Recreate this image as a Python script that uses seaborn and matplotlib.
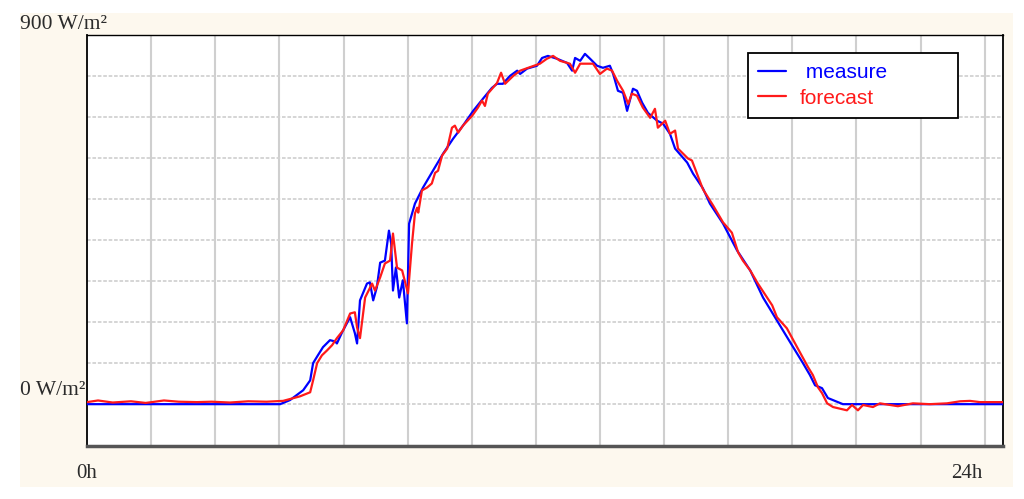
import numpy as np
import matplotlib
matplotlib.use("Agg")
import matplotlib.pyplot as plt
import seaborn as sns
from matplotlib.patches import Rectangle

# measured irradiance (W/m2) against hour of day
measure_hours = [0.00, 5.27, 5.54, 5.90, 6.09, 6.17, 6.30, 6.44, 6.63, 6.77, 6.82, 6.96,
                 7.18, 7.31, 7.37, 7.45, 7.64, 7.72, 7.81, 7.91, 8.00, 8.13, 8.24, 8.30,
                 8.35, 8.43, 8.52, 8.62, 8.73, 8.79, 8.95, 9.17, 9.44, 9.72, 9.99, 10.26,
                 10.54, 10.81, 11.05, 11.19, 11.35, 11.54, 11.74, 11.82, 12.01, 12.28, 12.42,
                 12.58, 12.83, 13.10, 13.24, 13.32, 13.46, 13.59, 13.73, 13.92, 14.08, 14.27,
                 14.36, 14.49, 14.63, 14.74, 14.90, 15.01, 15.15, 15.31, 15.56, 15.72, 15.91,
                 16.05, 16.38, 16.54, 16.81, 17.00, 17.36, 17.74, 18.10, 18.45, 18.83, 19.19,
                 19.54, 19.73, 19.87, 20.06, 20.22, 20.63, 25.00]
measure_wm2 = [0, 0, 10, 34, 58, 100, 119, 139, 156, 153, 148, 175,
               212, 173, 148, 253, 294, 297, 253, 285, 345, 350, 423, 392,
               277, 333, 260, 302, 197, 440, 489, 528, 569, 611, 647, 679,
               715, 745, 771, 781, 781, 800, 813, 805, 818, 825, 844,
               849, 842, 832, 813, 844, 837, 854, 842, 825, 820, 825,
               805, 764, 759, 715, 769, 764, 735, 710, 691, 684, 659,
               623, 589, 562, 526, 489, 440, 375, 326, 260, 204, 151,
               100, 71, 46, 39, 15, 0, 0]

# forecast irradiance (W/m2)
forecast_hours = [0.00, 0.30, 0.70, 1.20, 1.60, 2.10, 2.50, 3.00, 3.40, 3.90, 4.40, 4.90,
                  5.35, 5.81, 6.09, 6.17, 6.28, 6.41, 6.55, 6.69, 6.82, 6.99, 7.18, 7.31,
                  7.37, 7.45, 7.59, 7.78, 7.86, 8.00, 8.13, 8.27, 8.35, 8.46, 8.60, 8.76,
                  8.87, 8.95, 9.01, 9.04, 9.14, 9.28, 9.41, 9.50, 9.58, 9.69, 9.83, 9.96,
                  10.04, 10.13, 10.26, 10.51, 10.67, 10.78, 10.86, 10.94, 11.19, 11.30, 11.41,
                  11.63, 11.82, 12.04, 12.36, 12.55, 12.72, 12.91, 13.18, 13.32, 13.46, 13.81,
                  14.00, 14.19, 14.33, 14.47, 14.63, 14.77, 14.87, 15.01, 15.17, 15.37, 15.50,
                  15.58, 15.78, 15.91, 16.05, 16.13, 16.40, 16.51, 16.81, 17.09, 17.36, 17.60,
                  17.77, 17.90, 18.10, 18.31, 18.70, 18.83, 19.10, 19.38, 19.68, 19.81, 19.95,
                  20.06, 20.20, 20.36, 20.74, 20.88, 21.04, 21.18, 21.45, 21.64, 22.13, 22.54,
                  23.00, 23.47, 23.83, 24.10, 24.37, 25.00]
forecast_wm2 = [5, 9, 4, 7, 3, 9, 6, 5, 6, 4, 7, 6,
                8, 19, 29, 58, 100, 119, 131, 144, 161, 180, 221, 224,
                187, 161, 260, 294, 277, 309, 343, 350, 416, 333, 326, 270,
                392, 465, 479, 467, 521, 528, 538, 564, 569, 606, 623, 674,
                679, 662, 679, 703, 723, 740, 727, 757, 783, 808, 781,
                800, 813, 820, 830, 842, 849, 837, 830, 808, 830, 830,
                805, 818, 813, 788, 764, 732, 757, 752, 723, 698, 720,
                674, 691, 659, 667, 623, 599, 594, 524, 484, 443, 418,
                370, 350, 326, 294, 241, 212, 185, 139, 90, 71, 41,
                27, 2, -7, -15, -2, -15, -2, -7, 2, -5, 2,
                0, 2, 7, 8, 5, 5]

x_tick_hours = [0, 24]
x_tick_labels = ["0h", "24h"]

sns.set_style("white")
plt.rcParams["font.family"] = ["Liberation Serif", "DejaVu Sans"]

fig = plt.figure(figsize=(10.24, 4.99), dpi=100, facecolor="white")
fig.patches.append(Rectangle((0.0195, 0.024), 0.9698, 0.950, transform=fig.transFigure,
                             facecolor="#FDF8EE", edgecolor="none", zorder=-10))
ax = fig.add_axes([0.085, 0.1062, 0.8945, 0.8237])
ax.set_facecolor("white")

sns.lineplot(x=measure_hours, y=measure_wm2, ax=ax, color="#0000FF", lw=1.6,
             label=" measure", zorder=3)
sns.lineplot(x=forecast_hours, y=forecast_wm2, ax=ax, color="#FF1A1A", lw=1.6,
             label="forecast", zorder=4)

ax.set_xlim(0, 25)
ax.set_ylim(-102, 900)

# grid
ax.set_xticks(np.arange(0, 25, 1.75), minor=True)
ax.set_yticks(np.arange(0, 900, 100), minor=True)
ax.grid(False)
ax.grid(which="minor", axis="x", color="#cfcfcf", lw=1.5, ls="-", zorder=0)
ax.grid(which="minor", axis="y", color="#d2d2d2", lw=1.3, ls=(0, (2, 1)), zorder=0)
ax.tick_params(which="minor", direction="in", length=3, color="#333333", width=1)

ax.set_xticks(x_tick_hours, x_tick_labels)
ax.set_yticks([])
ax.tick_params(axis="x", which="major", length=0, pad=13, labelsize=15, labelcolor="#2b2b2b")

ax.annotate("900 W/m²", xy=(0, 900), xycoords=("axes fraction", "data"),
            xytext=(-67, 10), textcoords="offset pixels", ha="left", va="center",
            fontsize=15.5, color="#2b2b2b")
ax.annotate("0 W/m²", xy=(0, 0), xycoords=("axes fraction", "data"),
            xytext=(-2, 14), textcoords="offset pixels", ha="right", va="center",
            fontsize=15.5, color="#2b2b2b")

for side in ["left", "top", "right"]:
    ax.spines[side].set_color("black")
    ax.spines[side].set_linewidth(1.3)
ax.spines["top"].set_linewidth(1.0)
ax.spines["bottom"].set_color("#555555")
ax.spines["bottom"].set_linewidth(2.5)

leg = ax.legend(loc="upper left", bbox_to_anchor=(0.7216, 0.5, 0.2293, 0.4562),
                mode="expand", borderaxespad=0, fancybox=False, framealpha=1,
                edgecolor="black", handlelength=1.3, handletextpad=0.7,
                borderpad=0.5, labelspacing=0.3, labelcolor="linecolor",
                prop={"family": "Liberation Sans", "size": 15})
leg.get_frame().set_linewidth(1.3)

fig.savefig("out.png", dpi=100, facecolor="white")
